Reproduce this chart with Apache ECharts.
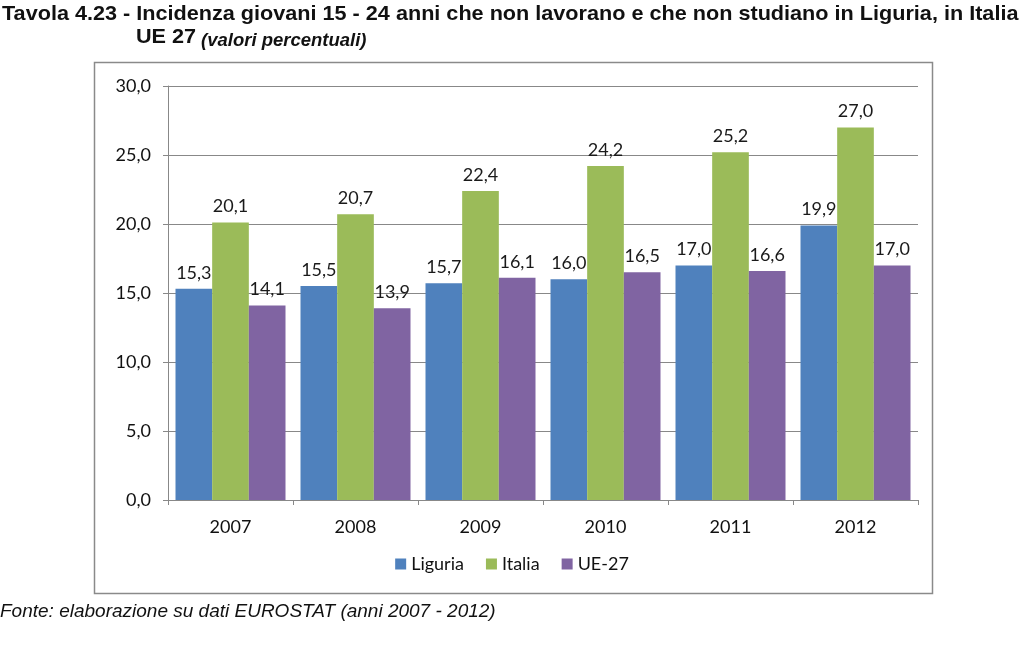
<!DOCTYPE html>
<html><head><meta charset="utf-8">
<script src="https://cdn.jsdelivr.net/npm/echarts@6/dist/echarts.min.js"></script>
<style>html,body{margin:0;padding:0;background:#fff}#c{width:1024px;height:653px}</style>
</head><body><div id="c"></div>
<script>
const years = ['2007','2008','2009','2010','2011','2012'];
const liguria = [15.3,15.5,15.7,16.0,17.0,19.9];
const italia = [20.1,20.7,22.4,24.2,25.2,27.0];
const ue27 = [14.1,13.9,16.1,16.5,16.6,17.0];
const seriesNames = ['Liguria','Italia','UE-27'];
const colors = ['#4F81BD','#9BBB59','#8064A2'];

const chart = echarts.init(document.getElementById('c'));
const fmt = v => v.toFixed(1).replace('.', ',');
const lblFont = 'Lato';
const mk = (name, data, i) => ({
  name, type:'bar', data, barGap:'0%', barCategoryGap:'12%',
  itemStyle:{color:colors[i]},
  label:{show:true, position:'top', distance:7, formatter:p=>fmt(p.value),
    fontFamily:lblFont, fontSize:18, color:'#1a1a1a'}
});
const arial = 'Liberation Sans, Arial, sans-serif';
chart.setOption({
  animation:false,
  backgroundColor:'#fff',
  graphic:[
    {type:'rect', shape:{x:94.5,y:62.5,width:838,height:531},
      style:{fill:'none',stroke:'#8a8a8a',lineWidth:1.5}, z:-1},
    {type:'text', x:2, y:4, scaleX:1.03,
      style:{text:'Tavola 4.23 - Incidenza giovani 15 - 24 anni che non lavorano e che non studiano in Liguria, in Italia',
        font:'bold 21px '+arial, fill:'#111', verticalAlign:'top'}},
    {type:'text', x:136, y:27, scaleX:1.03,
      style:{text:'UE 27', font:'bold 21px '+arial, fill:'#111', verticalAlign:'top'}},
    {type:'text', x:201, y:31,
      style:{text:'(valori percentuali)', font:'italic bold 18.5px '+arial, fill:'#111', verticalAlign:'top'}},
    {type:'text', x:0, y:602,
      style:{text:'Fonte: elaborazione su dati EUROSTAT (anni 2007 - 2012)', font:'italic 19px '+arial, fill:'#111', verticalAlign:'top'}}
  ],
  legend:{
    data:seriesNames, top:550, left:'center', itemWidth:11, itemHeight:11, itemGap:22,
    icon:'rect', textStyle:{fontFamily:lblFont,fontSize:18,color:'#111'}
  },
  grid:{left:168, right:106, top:86, bottom:153, containLabel:false},
  xAxis:{type:'category', data:years,
    axisLine:{lineStyle:{color:'#888'}},
    axisTick:{show:true, lineStyle:{color:'#888'}, length:5},
    axisLabel:{fontFamily:lblFont,fontSize:18,color:'#111',margin:18}},
  yAxis:{type:'value', min:0, max:30, interval:5,
    axisLine:{show:true,lineStyle:{color:'#888'}},
    axisTick:{show:true,lineStyle:{color:'#888'},length:5},
    splitLine:{lineStyle:{color:'#888'}},
    axisLabel:{formatter:fmt, fontFamily:lblFont,fontSize:18,color:'#111',margin:17}},
  series:[mk('Liguria',liguria,0), mk('Italia',italia,1), mk('UE-27',ue27,2)]
});
</script></body></html>
